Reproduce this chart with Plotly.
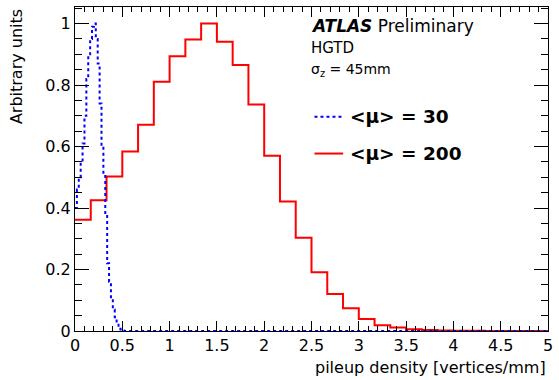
import numpy as np
import plotly.graph_objects as go

# ---- data ----
red_label = "<μ> = 200"
blue_label = "<μ> = 30"

# mu=200: 30 bins over 0..5
red_values = [0.362, 0.425, 0.503, 0.584, 0.671, 0.811, 0.894, 0.948, 1.000, 0.941,
              0.865, 0.737, 0.570, 0.421, 0.303, 0.191, 0.120, 0.074, 0.039, 0.019,
              0.011, 0.0055, 0.003, 0.0015, 0.001, 0.0005, 0.0003, 0.0002, 0.0001, 0.0001]
red_edges = list(np.linspace(0, 5, len(red_values) + 1))

# mu=30: fine bins (0.02 wide) up to 0.52, then empty to 5
blue_values = [0.40, 0.46, 0.50, 0.55, 0.61, 0.70, 0.82, 0.90, 0.95, 0.99,
               1.00, 0.95, 0.87, 0.74, 0.60, 0.51, 0.38, 0.22, 0.16, 0.11,
               0.07, 0.045, 0.025, 0.012, 0.005, 0.002, 0.0]
blue_edges = [round(0.02 * i, 2) for i in range(len(blue_values))] + [5.0]

x_ticks = [0, 0.5, 1, 1.5, 2, 2.5, 3, 3.5, 4, 4.5, 5]
y_ticks = [0, 0.2, 0.4, 0.6, 0.8, 1]

W, H = 559, 380
L, R, T, B = 75, 6, 6, 49
FONT = "DejaVu Sans"


def px(xpix):
    return (xpix - L) / (W - L - R)


def py(ypix):
    return (H - B - ypix) / (H - B - T)


fig = go.Figure()
fig.add_trace(go.Scatter(
    x=red_edges, y=red_values + [red_values[-1]], mode="lines",
    line=dict(color="#ff0000", width=2, shape="hv"), name=red_label,
    showlegend=False))
fig.add_trace(go.Scatter(
    x=blue_edges, y=blue_values + [blue_values[-1]], mode="lines",
    line=dict(color="#0000ff", width=2, shape="hv", dash="dot"), name=blue_label,
    showlegend=False))

axis_common = dict(showgrid=False, zeroline=False, showline=True, linecolor="black",
                   linewidth=1, mirror="allticks", ticks="inside", tickcolor="black",
                   tickfont=dict(family=FONT, size=16, color="black"))

fig.update_xaxes(range=[0, 5], tickvals=x_ticks, ticktext=[f"{v:g}" for v in x_ticks],
                 ticklen=10,
                 minor=dict(dtick=0.1, ticklen=5, ticks="inside", tickcolor="black", showgrid=False),
                 **axis_common)
fig.update_yaxes(range=[0, 1.054], tickvals=y_ticks, ticktext=[f"{v:g}" for v in y_ticks],
                 ticklen=14,
                 minor=dict(dtick=0.05, ticklen=7, ticks="inside", tickcolor="black", showgrid=False),
                 **axis_common)

ann = []
ann.append(dict(text="<b><i>ATLAS</i></b> Preliminary", x=px(311), y=py(25),
                xanchor="left", yanchor="middle", font=dict(family=FONT, size=17, color="black")))
ann.append(dict(text="HGTD", x=px(311), y=py(47),
                xanchor="left", yanchor="middle", font=dict(family=FONT, size=15, color="black")))
ann.append(dict(text="σ<sub>z</sub> = 45mm", x=px(311), y=py(69),
                xanchor="left", yanchor="middle", font=dict(family=FONT, size=14, color="black")))
ann.append(dict(text="<b>&lt;μ&gt; = 30</b>", x=px(351), y=py(116),
                xanchor="left", yanchor="middle", font=dict(family=FONT, size=18.5, color="black")))
ann.append(dict(text="<b>&lt;μ&gt; = 200</b>", x=px(351), y=py(153),
                xanchor="left", yanchor="middle", font=dict(family=FONT, size=18.5, color="black")))
ann.append(dict(text="Arbitrary units", x=px(16), y=1.0, textangle=-90,
                xanchor="center", yanchor="top", font=dict(family=FONT, size=16, color="black")))
ann.append(dict(text="pileup density [vertices/mm]", x=1.0, y=py(368),
                xanchor="right", yanchor="middle", font=dict(family=FONT, size=16, color="black")))
for a in ann:
    a.update(xref="paper", yref="paper", showarrow=False)

shapes = [
    dict(type="line", xref="paper", yref="paper", x0=px(317), x1=px(346), y0=py(116), y1=py(116),
         line=dict(color="#0000ff", width=2, dash="dot")),
    dict(type="line", xref="paper", yref="paper", x0=px(317), x1=px(346), y0=py(153), y1=py(153),
         line=dict(color="#ff0000", width=2)),
]

fig.update_layout(width=W, height=H, margin=dict(l=L, r=R, t=T, b=B),
                  paper_bgcolor="white", plot_bgcolor="white",
                  annotations=ann, shapes=shapes, showlegend=False,
                  font=dict(family=FONT, color="black"))

fig.write_html("out.html",
               config={"displayModeBar": False, "staticPlot": True},
               post_script="document.body.style.margin='0';document.body.style.padding='0';"
                           "document.documentElement.style.overflow='hidden';")
